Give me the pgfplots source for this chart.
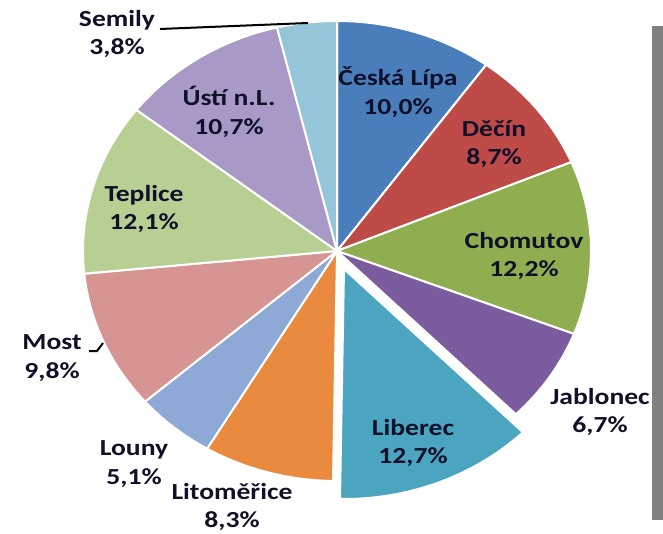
\documentclass[border=0pt]{standalone}
\usepackage{pgfplots}
\pgfplotsset{compat=1.18}
\usepackage{fontspec}
\newfontfamily\lab{Carlito}[FakeStretch=1.2]
\definecolor{cA}{HTML}{4A7EBB}
\definecolor{cB}{HTML}{BE4B48}
\definecolor{cC}{HTML}{8FAE4F}
\definecolor{cD}{HTML}{7B5C9E}
\definecolor{cE}{HTML}{4BA5C1}
\definecolor{cF}{HTML}{E98A3E}
\definecolor{cG}{HTML}{8FA9D6}
\definecolor{cH}{HTML}{D69592}
\definecolor{cI}{HTML}{B8CF94}
\definecolor{cJ}{HTML}{A899C6}
\definecolor{cK}{HTML}{94C5D8}
\definecolor{labc}{HTML}{10102A}
\tikzset{lbl/.style={inner sep=0pt, align=center, text=labc,
    font={\lab\bfseries\fontsize{23}{28.5}\selectfont}}}
\def\tot{100.1}
\gdef\cum{0}
% #1 value (percent), #2 colour, #3 dx, #4 dy
\newcommand\slice[4]{%
  \pgfmathsetmacro\ts{90-\cum/\tot*360}%
  \pgfmathsetmacro\newcum{\cum+#1}%
  \global\let\cum\newcum
  \pgfmathsetmacro\te{90-\cum/\tot*360}%
  \edef\doit{\noexpand\addplot[fill=#2, draw=white, line width=2pt, line join=round, domain=\te:\ts, samples=90]
    ({#3+254*cos(x)}, {#4+230*sin(x)}) -- (axis cs:#3,#4) -- cycle;}%
  \doit
}
\begin{document}
\begin{tikzpicture}
\begin{axis}[x=1pt, y=1pt, xmin=-337, xmax=326, ymin=-282, ymax=251,
  hide axis, scale only axis, clip=false]
\path[draw=none] (rel axis cs:0,0) rectangle (rel axis cs:1,1);
\slice{10.0}{cA}{0}{0}   % Česká Lípa
\slice{8.7}{cB}{0}{0}    % Děčín
\slice{12.2}{cC}{0}{0}   % Chomutov
\slice{6.7}{cD}{0}{0}    % Jablonec
\slice{12.7}{cE}{7}{-18} % Liberec
\slice{8.3}{cF}{0}{0}    % Litoměřice
\slice{5.1}{cG}{0}{0}    % Louny
\slice{9.8}{cH}{0}{0}    % Most
\slice{12.1}{cI}{0}{0}   % Teplice
\slice{10.7}{cJ}{0}{0}   % Ústí n.L.
\slice{3.8}{cK}{0}{0}    % Semily
% labels
\node[lbl] at (axis cs:61,159) {Česká Lípa\\10,0\%};
\node[lbl] at (axis cs:157,107) {Děčín\\8,7\%};
\node[lbl] at (axis cs:187,-5) {Chomutov\\12,2\%};
\node[lbl] at (axis cs:263,-161) {Jablonec\\6,7\%};
\node[lbl] at (axis cs:76,-192) {Liberec\\12,7\%};
\node[lbl] at (axis cs:-105,-256) {Litoměřice\\8,3\%};
\node[lbl] at (axis cs:-203,-213) {Louny\\5,1\%};
\node[lbl] at (axis cs:-285,-107) {Most\\9,8\%};
\node[lbl] at (axis cs:-193,42) {Teplice\\12,1\%};
\node[lbl] at (axis cs:-108,139) {Ústí n.L.\\10,7\%};
\node[lbl] at (axis cs:-220,217) {Semily\\3,8\%};
% leader lines
\draw[black, line width=2pt] (axis cs:-177,222) -- (axis cs:-29,228);
\draw[black, line width=2pt] (axis cs:-248,-100) -- (axis cs:-240,-100) -- (axis cs:-234,-92);
% grey frame edge on the right
\fill[gray] (axis cs:315,225) rectangle (axis cs:326,-269);
\end{axis}
\end{tikzpicture}
\end{document}
